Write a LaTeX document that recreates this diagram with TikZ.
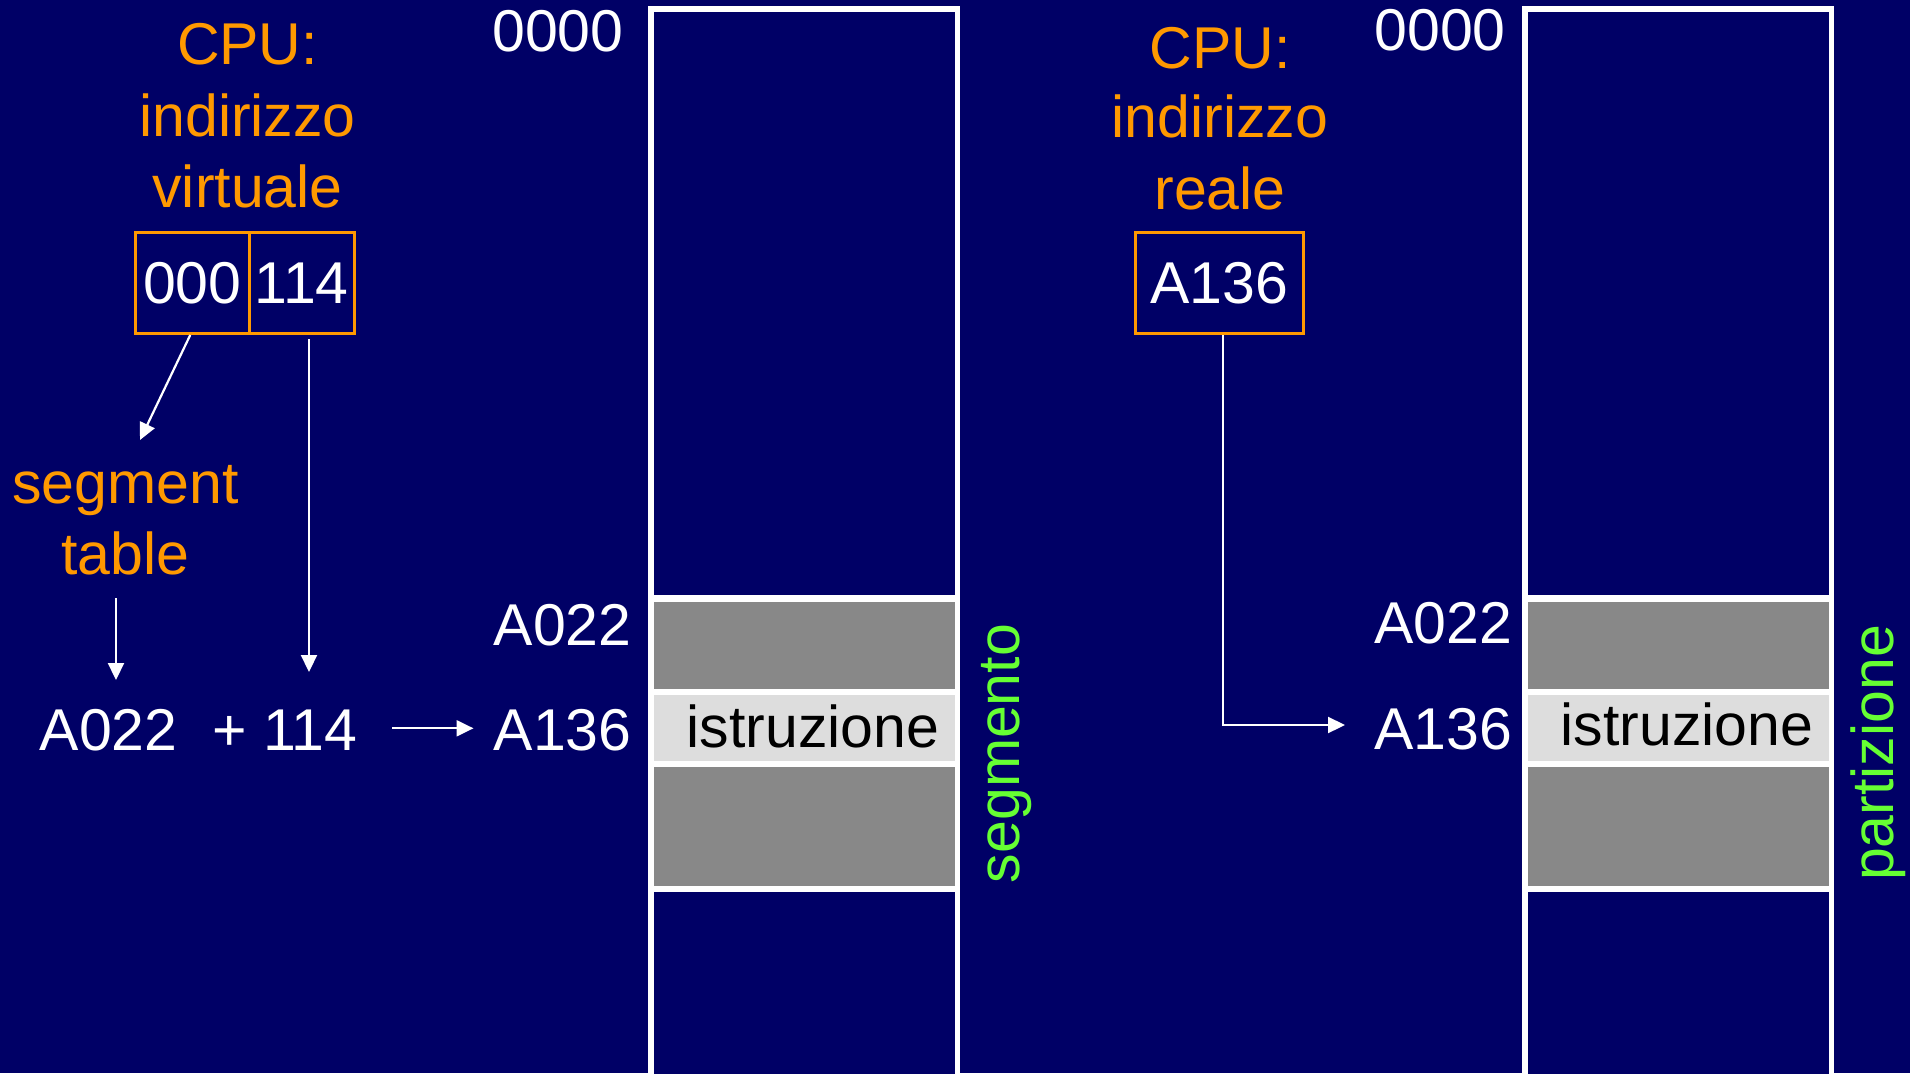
\documentclass[tikz,border=0pt]{standalone}
\usepackage{fontspec}
\setmainfont{Liberation Sans}
\usetikzlibrary{arrows.meta}
\definecolor{navyC}{RGB}{0,0,102}
\definecolor{orangeC}{RGB}{255,153,0}
\definecolor{greenC}{RGB}{102,255,51}
\definecolor{grayC}{RGB}{136,136,136}
\definecolor{lightC}{RGB}{221,221,221}
\begin{document}
\begin{tikzpicture}[x=1pt,y=-1pt,
  lbl/.style={font=\fontsize{59}{71}\selectfont, inner sep=0pt, anchor=base},
  wtxt/.style={lbl,text=white},
  otxt/.style={lbl,text=orangeC},
  gtxt/.style={lbl,text=greenC,rotate=90},
  btxt/.style={lbl,text=black},
  arr/.style={draw=white,line width=2.2pt,-{Triangle[length=17pt,width=16pt]}},
  cell/.style={draw=orangeC,line width=3pt,inner sep=0pt,text=white,
    font=\fontsize{59}{71}\selectfont,minimum height=101pt}]
\useasboundingbox (0,0) rectangle (1910,1073);
\fill[navyC] (0,0) rectangle (1910,1073);

% ---------- left memory column ----------
\fill[white] (648,6) rectangle (960,1080);
\fill[navyC] (654,12) rectangle (955,595);
\fill[grayC] (654,601.5) rectangle (955,689);
\fill[lightC] (654,695) rectangle (955,761);
\fill[grayC] (654,767) rectangle (955,886);
\fill[navyC] (654,892) rectangle (955,1080);

% ---------- right memory column ----------
\fill[white] (1522,6) rectangle (1834,1080);
\fill[navyC] (1528,12) rectangle (1829,595);
\fill[grayC] (1528,601.5) rectangle (1829,689);
\fill[lightC] (1528,695) rectangle (1829,761);
\fill[grayC] (1528,767) rectangle (1829,886);
\fill[navyC] (1528,892) rectangle (1829,1080);

% ---------- left texts ----------
\node[otxt] (cpuL) at (247.5,65) {CPU:};
\node[otxt] (indL) at (247.5,136) {indirizzo};
\node[otxt] (virL) at (247.5,207) {virtuale};
\node[cell,minimum width=113.5pt] (c0) at (192.25,283) {\raisebox{-2.5pt}{000}};
\node[cell,minimum width=105.5pt] (c1) at (301.75,283) {\raisebox{-2.5pt}{114}};
\node[otxt] (segT) at (125.5,503) {segment};
\node[otxt] (tabT) at (125.5,574) {table};
\node[wtxt] (a022s) at (108.7,750.7) {A022};
\node[wtxt] (plus) at (285,750.7) {+ 114};
\node[wtxt] (zeroL) at (558,51.7) {0000};
\node[wtxt] (a022L) at (562.6,645) {A022};
\node[wtxt] (a136L) at (562.6,750) {A136};
\node[btxt] (istrL) at (813,747) {istruzione};
\node[gtxt] (segm) at (1019.5,753.5) {segmento};

% ---------- right texts ----------
\node[otxt] (cpuR) at (1220,68) {CPU:};
\node[otxt] (indR) at (1220,137) {indirizzo};
\node[otxt] (reaR) at (1220,209) {reale};
\node[cell,minimum width=168pt] (rb) at (1219.5,283) {\raisebox{-1.5pt}{A136}};
\node[wtxt] (zeroR) at (1440,51) {0000};
\node[wtxt] (a022R) at (1443,643) {A022};
\node[wtxt] (a136R) at (1443,749.5) {A136};
\node[btxt] (istrR) at (1686.8,745) {istruzione};
\node[gtxt] (part) at (1893,753) {partizione};

% ---------- connectors ----------
\coordinate (stTip) at (140,440);
\coordinate (tabS) at (116,598);
\coordinate (tabE) at (116,680);
\coordinate (offS) at (309,339);
\coordinate (offE) at (309,672);
\coordinate (sumS) at (392,728.3);
\coordinate (sumE) at (473.5,728.3);
\coordinate (rS) at (1223.3,335);
\coordinate (rE) at (1345,725);
\draw[arr] ([xshift=-2pt]c0.south) -- (stTip);
\draw[arr] (tabS) -- (tabE);
\draw[arr] (offS) -- (offE);
\draw[arr] (sumS) -- (sumE);
\draw[arr] (rS) |- (rE);
\end{tikzpicture}
\end{document}
